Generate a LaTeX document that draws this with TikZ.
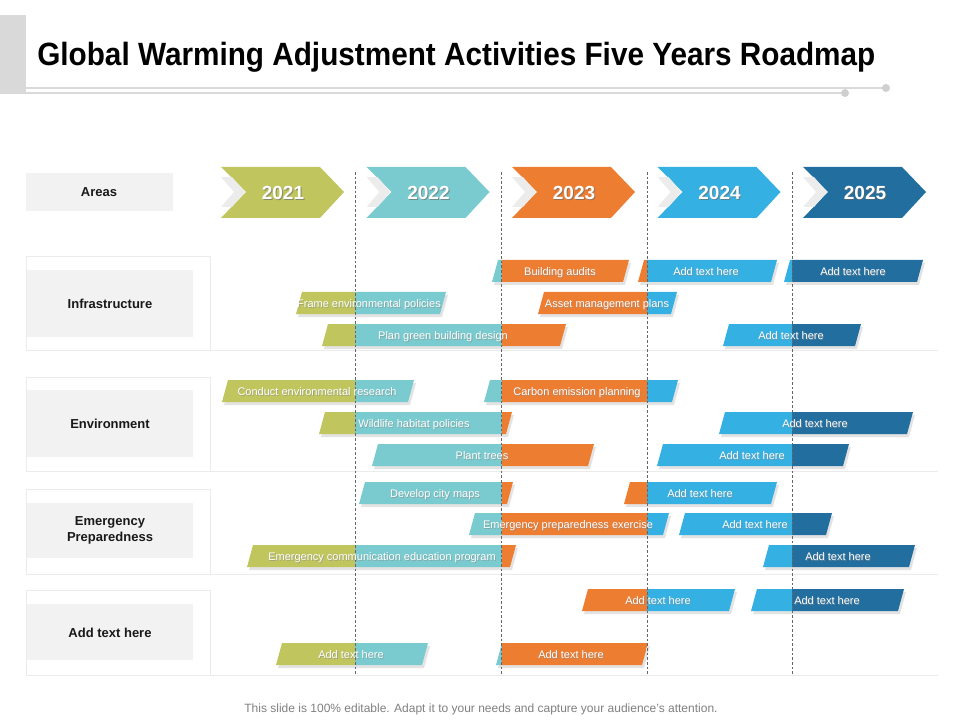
\documentclass[tikz,border=0pt]{standalone}
\usepackage{fontspec}
\setmainfont{Liberation Sans}
\usepackage{graphicx}
\definecolor{c21}{HTML}{C0C55E}
\definecolor{c22}{HTML}{79CBCF}
\definecolor{c23}{HTML}{ED7D31}
\definecolor{c24}{HTML}{35B0E2}
\definecolor{c25}{HTML}{216E9F}
\definecolor{boxgray}{HTML}{F2F2F2}
\definecolor{framegray}{HTML}{EBEBEB}
\definecolor{linegray}{HTML}{D9D9D9}
\definecolor{dotgray}{HTML}{CFCFCF}
\definecolor{chevgray}{HTML}{ECECEC}
\definecolor{footgray}{HTML}{7F7F7F}
\newcommand{\roadbar}[3]{%
  \fill[black!11] (#2+2,#1+14) -- (#2+8,#1-8) -- (#3+2,#1-8) -- (#3-4,#1+14) -- cycle;
  \begin{scope}
    \clip (#2,#1+11) -- (#2+6,#1-11) -- (#3,#1-11) -- (#3-6,#1+11) -- cycle;
    \fill[c21] (0,#1-12) rectangle (355,#1+12);
    \fill[c22] (355,#1-12) rectangle (502,#1+12);
    \fill[c23] (502,#1-12) rectangle (647,#1+12);
    \fill[c24] (647,#1-12) rectangle (792,#1+12);
    \fill[c25] (792,#1-12) rectangle (960,#1+12);
  \end{scope}}
\newcommand{\bartxt}[4]{%
  \node[bartext,text=black!45,opacity=0.6] (#1s) at (#2+0.8,#3+5.3) {#4};
  \node[bartext] (#1) at (#2,#3+4.5) {#4};}
\newcommand{\yearchev}[4]{%
  \fill[#3] (#2,167) -- (#2+99,167) -- (#2+123,192) -- (#2+99,218) -- (#2,218) -- (#2+25,192) -- cycle;
  \fill[chevgray] (#2,177) -- (#2+11,177) -- (#2+24,192) -- (#2+11,207) -- (#2,207) -- (#2+13,192) -- cycle;
  \node[yeartext,text=black!60,opacity=0.6] (#1s) at (#2+62+1,200+1) {#4};
  \node[yeartext] (#1) at (#2+62,200) {#4};}
\tikzset{
  bartext/.style={text=white,font=\fontsize{8.25pt}{9pt}\selectfont,inner sep=0pt,anchor=base},
  yeartext/.style={text=white,font=\fontsize{14.25pt}{16pt}\selectfont\bfseries,inner sep=0pt,anchor=base},
  arealabel/.style={font=\fontsize{9.75pt}{12pt}\selectfont\bfseries,align=center,inner sep=0pt,text=black!90},
  frame/.style={draw=framegray,line width=0.6pt},
  yearline/.style={draw=black!60,line width=0.5pt,dash pattern=on 2pt off 1.5pt}
}
\begin{document}
\begin{tikzpicture}[x=0.75pt,y=-0.75pt]
\useasboundingbox (0,0) rectangle (960,720);
% title
\fill[framegray!90!black!0!linegray] (0,15) rectangle (26,94);
\node[anchor=base west,inner sep=0pt] (title) at (37,66) {\resizebox{628.5pt}{17.5pt}{\bfseries Global Warming Adjustment Activities Five Years Roadmap}};
\draw[linegray,line width=0.8pt] (26,88) -- (886,88);
\draw[linegray,line width=0.8pt] (26,93) -- (845,93);
\fill[dotgray] (886,88) circle (4);
\fill[dotgray] (845,93) circle (4);
% areas header
\fill[boxgray] (26,173) rectangle (173,211);
\node[arealabel] (areas) at (99,192.5) {Areas};
% frames
\draw[frame] (26,256) rectangle (210,350); \draw[frame] (210,350) -- (938,350);
\draw[frame] (26,377) rectangle (210,471); \draw[frame] (210,471) -- (938,471);
\draw[frame] (26,489) rectangle (210,574); \draw[frame] (210,574) -- (938,574);
\draw[frame] (26,590) rectangle (210,675); \draw[frame] (210,675) -- (938,675);
\fill[boxgray] (26.5,270) rectangle (193,337);
\fill[boxgray] (26.5,390) rectangle (193,457);
\fill[boxgray] (26.5,503) rectangle (193,558);
\fill[boxgray] (26.5,604) rectangle (193,660);
\node[arealabel] (infra) at (110,303.5) {Infrastructure};
\node[arealabel] (env) at (110,423.5) {Environment};
\node[arealabel] (emerg) at (110,530.5) {Emergency\\Preparedness};
\node[arealabel] (addarea) at (110,632.5) {Add text here};
% year chevrons
\yearchev{y21}{221}{c21}{2021}
\yearchev{y22}{366.5}{c22}{2022}
\yearchev{y23}{512}{c23}{2023}
\yearchev{y24}{657.5}{c24}{2024}
\yearchev{y25}{803}{c25}{2025}
% bars
\roadbar{271}{492}{629}
\roadbar{271}{638}{777}
\roadbar{271}{784}{923}
\roadbar{303}{296}{446}
\roadbar{303}{538}{677}
\roadbar{335}{322}{566}
\roadbar{335}{723}{861}
\roadbar{391}{222}{414}
\roadbar{391}{484}{678}
\roadbar{423}{319}{512}
\roadbar{423}{719}{913}
\roadbar{455}{372}{594}
\roadbar{455}{657}{849}
\roadbar{493}{359}{513}
\roadbar{493}{624}{777}
\roadbar{524}{469}{669}
\roadbar{524}{679}{832}
\roadbar{556}{247}{516}
\roadbar{556}{763}{915}
\roadbar{600}{582}{735}
\roadbar{600}{751}{904}
\roadbar{654}{276}{428}
\roadbar{654}{496}{648}
% dashed year lines
\coordinate (d1t) at (355,172); \coordinate (d1b) at (355,676);
\coordinate (d2t) at (501.5,172); \coordinate (d2b) at (501.5,676);
\coordinate (d3t) at (647,172); \coordinate (d3b) at (647,676);
\coordinate (d4t) at (792,172); \coordinate (d4b) at (792,676);
\draw[yearline] (d1t) -- (d1b);
\draw[yearline] (d2t) -- (d2b);
\draw[yearline] (d3t) -- (d3b);
\draw[yearline] (d4t) -- (d4b);
% bar texts
\bartxt{b1}{560}{271}{Building audits}
\bartxt{b2}{706}{271}{Add text here}
\bartxt{b3}{853}{271}{Add text here}
\bartxt{b4}{369}{303}{Frame environmental policies}
\bartxt{b5}{607}{303}{Asset management plans}
\bartxt{b6}{443}{335}{Plan green building design}
\bartxt{b7}{791}{335}{Add text here}
\bartxt{b8}{317}{391}{Conduct environmental research}
\bartxt{b9}{577}{391}{Carbon emission planning}
\bartxt{b10}{414}{423}{Wildlife habitat policies}
\bartxt{b11}{815}{423}{Add text here}
\bartxt{b12}{482}{455}{Plant trees}
\bartxt{b13}{752}{455}{Add text here}
\bartxt{b14}{435}{493}{Develop city maps}
\bartxt{b15}{700}{493}{Add text here}
\bartxt{b16}{568}{524}{Emergency preparedness exercise}
\bartxt{b17}{755}{524}{Add text here}
\bartxt{b18}{382}{556}{Emergency communication education program}
\bartxt{b19}{838}{556}{Add text here}
\bartxt{b20}{658}{600}{Add text here}
\bartxt{b21}{827}{600}{Add text here}
\bartxt{b22}{351}{654}{Add text here}
\bartxt{b23}{571}{654}{Add text here}
% footer
\node[text=footgray,font=\fontsize{9pt}{10pt}\selectfont,inner sep=0pt,anchor=base] (foot) at (481,712) {This slide is 100\% editable. Adapt it to your needs and capture your audience’s attention.};
\end{tikzpicture}
\end{document}
